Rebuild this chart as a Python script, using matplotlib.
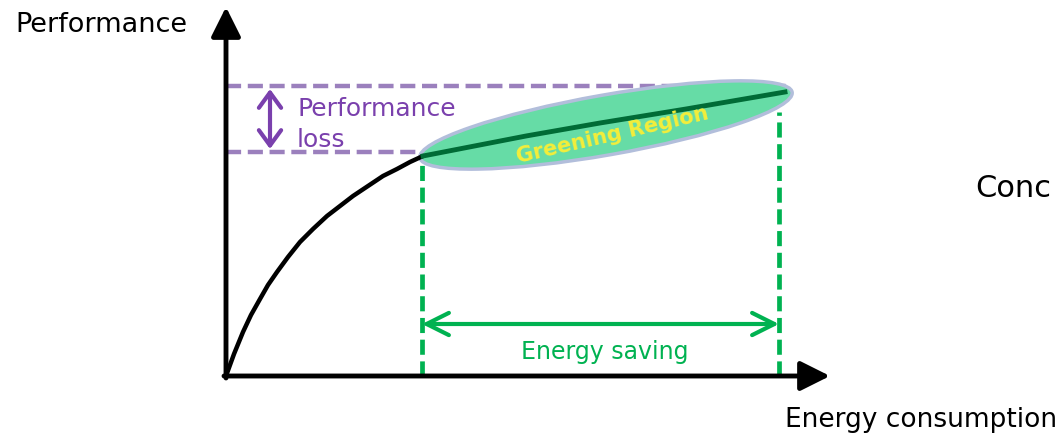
import numpy as np
import matplotlib.pyplot as plt
from matplotlib.patches import Ellipse

# data (units: pixels from the axis origin, y upward)
curve_x = [0, 8, 17, 25, 34, 42, 51, 62, 74, 87, 101, 114, 127, 142, 157, 171, 184, 197]
curve_y = [0, 22, 44, 61, 77, 91, 104, 119, 134, 147, 160, 170, 180, 190, 200, 207, 214, 220]
green_x = [197, 300, 374, 460, 559]
green_y = [220, 240, 253, 267, 284]

perf_high = 290
perf_low = 224
energy_low = 196
energy_high = 553
x_end = 604
y_end = 369

purple_dash = '#9b80bd'
purple = '#7a40ad'
green = '#00b251'

fig = plt.figure(figsize=(10.59, 4.39), dpi=100)
ax = fig.add_axes([0, 0, 1, 1])
ax.set_xlim(-226, 833)
ax.set_ylim(-62, 377)
ax.axis('off')

# greening ellipse
ell = Ellipse((380, 251), 378, 60, angle=10, facecolor='#66dca6',
              edgecolor='#b2bedb', lw=2.5, zorder=2)
ax.add_patch(ell)

# dashed performance lines
ax.plot([0, 565], [perf_high, perf_high], color=purple_dash, lw=3.2,
        dashes=(3.4, 1.5), zorder=1)
ax.plot([0, 194], [perf_low, perf_low], color=purple_dash, lw=3.2,
        dashes=(3.4, 1.5), zorder=1)

# curve
ax.plot(curve_x, curve_y, color='black', lw=3.2, zorder=3, solid_capstyle='round')
ax.plot(green_x, green_y, color='#006b36', lw=3.5, zorder=3)

# green dashed verticals
ax.plot([energy_low, energy_low], [0, 217], color=green, lw=3.4,
        dashes=(3.2, 1.4), zorder=1)
ax.plot([energy_high, energy_high], [0, 264], color=green, lw=3.4,
        dashes=(3.2, 1.4), zorder=1)

# axes arrows
ax.annotate('', xy=(0, y_end), xytext=(0, -2),
            arrowprops=dict(arrowstyle='-|>,head_length=0.9,head_width=0.45',
                            color='black', lw=3.5, mutation_scale=20, shrinkA=0, shrinkB=0))
ax.annotate('', xy=(x_end, 0), xytext=(-2, 0),
            arrowprops=dict(arrowstyle='-|>,head_length=0.9,head_width=0.45',
                            color='black', lw=3.5, mutation_scale=20, shrinkA=0, shrinkB=0))

# performance loss arrow
ax.annotate('', xy=(44, perf_high - 3), xytext=(44, perf_low + 3),
            arrowprops=dict(arrowstyle='<->,head_length=0.55,head_width=0.4',
                            color=purple, lw=3, mutation_scale=20, shrinkA=0, shrinkB=0))
ax.text(71, 268, 'Performance', color=purple, fontsize=18, va='center', ha='left')
ax.text(71, 237, 'loss', color=purple, fontsize=18, va='center', ha='left')

# energy saving arrow
ax.annotate('', xy=(energy_high, 52), xytext=(energy_low, 52),
            arrowprops=dict(arrowstyle='<->,head_length=0.8,head_width=0.4',
                            color=green, lw=3, mutation_scale=20, shrinkA=0, shrinkB=0))
ax.text(379, 25, 'Energy saving', color=green, fontsize=17, ha='center', va='center')

ax.text(386, 242, 'Greening Region', color='#f4ee3a', fontsize=15, fontweight='bold',
        rotation=13, ha='center', va='center', zorder=4)

ax.text(-125, 352, 'Performance', color='black', fontsize=19.5, ha='center', va='center')
ax.text(559, -43, 'Energy consumption', color='black', fontsize=19, ha='left', va='center')
ax.text(749, 188, 'Conc', color='black', fontsize=22, ha='left', va='center')

fig.savefig('out.png', dpi=100)
